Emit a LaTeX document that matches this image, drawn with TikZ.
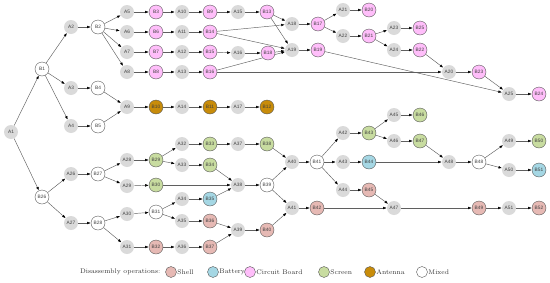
\documentclass[tikz,border=0pt]{standalone}
\usepackage{fontspec}
\newfontfamily\labelfont{Liberation Sans}
\usetikzlibrary{arrows.meta,backgrounds}
\definecolor{shellc}{RGB}{230,185,180}
\definecolor{batteryc}{RGB}{165,215,228}
\definecolor{boardc}{RGB}{255,190,250}
\definecolor{screenc}{RGB}{200,220,160}
\definecolor{antennac}{RGB}{200,140,10}
\definecolor{opgray}{RGB}{218,218,218}
\definecolor{edgec}{RGB}{95,95,95}
\tikzset{
    part/.style={circle, minimum size=14pt, inner sep=0pt,
        font=\labelfont\fontsize{4.8}{5}\selectfont, text=black!75},
    aop/.style={part, fill=opgray},
    bop/.style={part, draw=black!65, line width=0.4pt},
    mixed/.style={bop, fill=white},
    shell/.style={bop, fill=shellc},
    battery/.style={bop, fill=batteryc},
    board/.style={bop, fill=boardc},
    screen/.style={bop, fill=screenc},
    antenna/.style={bop, fill=antennac},
    arr/.style={-{Latex[length=3.6pt,width=2.6pt,color=black]}, draw=edgec, line width=0.45pt},
    legdot/.style={minimum size=11pt},
    legtxt/.style={font=\fontsize{6.7}{8}\selectfont, text=black!80, inner sep=0.5pt},
}

\begin{document}
\begin{tikzpicture}[x=1pt,y=-1pt]
		\useasboundingbox (0,0) rectangle (550,282);
		% upper tree
		\node[aop] (A1) at (11,132) {A1};
		\node[mixed] (B1) at (42,69) {B1};
		\node[aop] (A2) at (71,27) {A2};
		\node[mixed] (B2) at (98,27) {B2};
		\node[aop] (A3) at (71,88) {A3};
		\node[mixed] (B4) at (98,88) {B4};
		\node[aop] (A4) at (71,126) {A4};
		\node[mixed] (B5) at (98,126) {B5};
		\node[aop] (A5) at (127,12) {A5};
		\node[aop] (A6) at (127,32) {A6};
		\node[aop] (A7) at (127,52) {A7};
		\node[aop] (A8) at (127,72) {A8};
		\node[aop] (A9) at (127,107) {A9};
		\node[board] (B3) at (156,12) {B3};
		\node[board] (B6) at (156,32) {B6};
		\node[board] (B7) at (156,52) {B7};
		\node[board] (B8) at (156,72) {B8};
		\node[antenna] (B10) at (156,107) {B10};
		\node[aop] (A10) at (182,12) {A10};
		\node[aop] (A11) at (182,32) {A11};
		\node[aop] (A12) at (182,52) {A12};
		\node[aop] (A13) at (182,72) {A13};
		\node[aop] (A14) at (182,107) {A14};
		\node[board] (B9) at (210,12) {B9};
		\node[board] (B14) at (210,32) {B14};
		\node[board] (B15) at (210,52) {B15};
		\node[board] (B16) at (210,72) {B16};
		\node[antenna] (B11) at (210,107) {B11};
		\node[aop] (A15) at (238,12) {A15};
		\node[aop] (A16) at (238,53) {A16};
		\node[aop] (A17) at (238,107) {A17};
		\node[board] (B13) at (267,12) {B13};
		\node[board] (B18) at (268,53) {B18};
		\node[antenna] (B12) at (267,107) {B12};
		\node[aop] (A18) at (292,24) {A18};
		\node[aop] (A19) at (292,50) {A19};
		\node[board] (B17) at (318,24) {B17};
		\node[board] (B19) at (318,50) {B19};
		\node[aop] (A21) at (343,10) {A21};
		\node[aop] (A22) at (343,36) {A22};
		\node[board] (B20) at (369,10) {B20};
		\node[board] (B21) at (369,36) {B21};
		\node[aop] (A23) at (394,28) {A23};
		\node[aop] (A24) at (394,50) {A24};
		\node[board] (B25) at (420,28) {B25};
		\node[board] (B22) at (420,50) {B22};
		\node[aop] (A20) at (449,72) {A20};
		\node[board] (B23) at (479,72) {B23};
		\node[aop] (A25) at (509,94) {A25};
		\node[board] (B24) at (539,94) {B24};
		% lower tree
		\node[mixed] (B26) at (42,197) {B26};
		\node[aop] (A26) at (71,174) {A26};
		\node[mixed] (B27) at (98,174) {B27};
		\node[aop] (A27) at (71,223) {A27};
		\node[mixed] (B28) at (98,223) {B28};
		\node[aop] (A28) at (127,160) {A28};
		\node[aop] (A29) at (127,186) {A29};
		\node[aop] (A30) at (127,214) {A30};
		\node[aop] (A31) at (127,247) {A31};
		\node[screen] (B29) at (156,160) {B29};
		\node[screen] (B30) at (156,185) {B30};
		\node[mixed] (B31) at (156,212) {B31};
		\node[shell] (B32) at (156,247) {B32};
		\node[aop] (A32) at (182,144) {A32};
		\node[aop] (A33) at (182,165) {A33};
		\node[aop] (A34) at (182,199) {A34};
		\node[aop] (A35) at (182,221) {A35};
		\node[aop] (A36) at (182,247) {A36};
		\node[screen] (B33) at (210,144) {B33};
		\node[screen] (B34) at (210,165) {B34};
		\node[battery] (B35) at (210,199) {B35};
		\node[shell] (B36) at (210,221) {B36};
		\node[shell] (B37) at (210,247) {B37};
		\node[aop] (A37) at (238,144) {A37};
		\node[aop] (A38) at (238,185) {A38};
		\node[aop] (A39) at (238,230) {A39};
		\node[screen] (B38) at (267,144) {B38};
		\node[mixed] (B39) at (267,185) {B39};
		\node[shell] (B40) at (267,230) {B40};
		\node[aop] (A40) at (292,162) {A40};
		\node[aop] (A41) at (292,208) {A41};
		\node[mixed] (B41) at (317,162) {B41};
		\node[shell] (B42) at (317,208) {B42};
		\node[aop] (A42) at (343,133) {A42};
		\node[aop] (A43) at (343,162) {A43};
		\node[aop] (A44) at (343,190) {A44};
		\node[screen] (B43) at (369,133) {B43};
		\node[battery] (B44) at (369,162) {B44};
		\node[shell] (B45) at (369,190) {B45};
		\node[aop] (A45) at (394,115) {A45};
		\node[aop] (A46) at (394,141) {A46};
		\node[aop] (A47) at (394,208) {A47};
		\node[screen] (B46) at (420,115) {B46};
		\node[screen] (B47) at (420,141) {B47};
		\node[aop] (A48) at (449,162) {A48};
		\node[mixed] (B48) at (479,162) {B48};
		\node[shell] (B49) at (479,208) {B49};
		\node[aop] (A49) at (509,141) {A49};
		\node[aop] (A50) at (509,170) {A50};
		\node[aop] (A51) at (509,208) {A51};
		\node[screen] (B50) at (539,141) {B50};
		\node[battery] (B51) at (539,170) {B51};
		\node[shell] (B52) at (539,208) {B52};
		\begin{pgfonlayer}{background}
		% upper edges
		\draw[arr] (A1) -- (B1);
		\draw[arr] (A1) -- (B26);
		\draw[arr] (B1) -- (A2);
		\draw[arr] (B1) -- (A3);
		\draw[arr] (B1) -- (A4);
		\draw[arr] (A2) -- (B2);
		\draw[arr] (A3) -- (B4);
		\draw[arr] (A4) -- (B5);
		\draw[arr] (B2) -- (A5);
		\draw[arr] (B2) -- (A6);
		\draw[arr] (B2) -- (A7);
		\draw[arr] (B2) -- (A8);
		\draw[arr] (B4) -- (A9);
		\draw[arr] (B5) -- (A9);
		\draw[arr] (A5) -- (B3);
		\draw[arr] (B3) -- (A10);
		\draw[arr] (A10) -- (B9);
		\draw[arr] (B9) -- (A15);
		\draw[arr] (A15) -- (B13);
		\draw[arr] (A6) -- (B6);
		\draw[arr] (B6) -- (A11);
		\draw[arr] (A11) -- (B14);
		\draw[arr] (A7) -- (B7);
		\draw[arr] (B7) -- (A12);
		\draw[arr] (A12) -- (B15);
		\draw[arr] (B15) -- (A16);
		\draw[arr] (A16) -- (B18);
		\draw[arr] (A8) -- (B8);
		\draw[arr] (B8) -- (A13);
		\draw[arr] (A13) -- (B16);
		\draw[arr] (A9) -- (B10);
		\draw[arr] (B10) -- (A14);
		\draw[arr] (A14) -- (B11);
		\draw[arr] (B11) -- (A17);
		\draw[arr] (A17) -- (B12);
		\draw[arr] (B13) -- (A18);
		\draw[arr] (B13) -- (A19);
		\draw[arr] (B14) -- (A18);
		\draw[arr] (B14) -- (A19);
		\draw[arr] (B18) -- (A19);
		\draw[arr] (B16) -- (A19);
		\draw[arr] (B16) -- (A20);
		\draw[arr] (A18) -- (B17);
		\draw[arr] (A19) -- (B19);
		\draw[arr] (B17) -- (A21);
		\draw[arr] (B17) -- (A22);
		\draw[arr] (A21) -- (B20);
		\draw[arr] (A22) -- (B21);
		\draw[arr] (B21) -- (A23);
		\draw[arr] (B21) -- (A24);
		\draw[arr] (A23) -- (B25);
		\draw[arr] (A24) -- (B22);
		\draw[arr] (B22) -- (A20);
		\draw[arr] (A20) -- (B23);
		\draw[arr] (B23) -- (A25);
		\draw[arr] (B19) -- (A25);
		\draw[arr] (A25) -- (B24);
		% lower edges
		\draw[arr] (B26) -- (A26);
		\draw[arr] (B26) -- (A27);
		\draw[arr] (A26) -- (B27);
		\draw[arr] (A27) -- (B28);
		\draw[arr] (B27) -- (A28);
		\draw[arr] (B27) -- (A29);
		\draw[arr] (B28) -- (A30);
		\draw[arr] (B28) -- (A31);
		\draw[arr] (A28) -- (B29);
		\draw[arr] (A29) -- (B30);
		\draw[arr] (A30) -- (B31);
		\draw[arr] (A31) -- (B32);
		\draw[arr] (B29) -- (A32);
		\draw[arr] (B29) -- (A33);
		\draw[arr] (A32) -- (B33);
		\draw[arr] (B33) -- (A37);
		\draw[arr] (A37) -- (B38);
		\draw[arr] (A33) -- (B34);
		\draw[arr] (B34) -- (A38);
		\draw[arr] (B30) -- (A38);
		\draw[arr] (B31) -- (A34);
		\draw[arr] (B31) -- (A35);
		\draw[arr] (A34) -- (B35);
		\draw[arr] (B35) -- (A38);
		\draw[arr] (A35) -- (B36);
		\draw[arr] (B36) -- (A39);
		\draw[arr] (B32) -- (A36);
		\draw[arr] (A36) -- (B37);
		\draw[arr] (B37) -- (A39);
		\draw[arr] (A38) -- (B39);
		\draw[arr] (A39) -- (B40);
		\draw[arr] (B38) -- (A40);
		\draw[arr] (B39) -- (A40);
		\draw[arr] (B39) -- (A41);
		\draw[arr] (B40) -- (A41);
		\draw[arr] (A40) -- (B41);
		\draw[arr] (A41) -- (B42);
		\draw[arr] (B41) -- (A42);
		\draw[arr] (B41) -- (A43);
		\draw[arr] (B41) -- (A44);
		\draw[arr] (A42) -- (B43);
		\draw[arr] (A43) -- (B44);
		\draw[arr] (A44) -- (B45);
		\draw[arr] (B43) -- (A45);
		\draw[arr] (B43) -- (A46);
		\draw[arr] (A45) -- (B46);
		\draw[arr] (A46) -- (B47);
		\draw[arr] (B47) -- (A48);
		\draw[arr] (B44) -- (A48);
		\draw[arr] (B45) -- (A47);
		\draw[arr] (B42) -- (A47);
		\draw[arr] (A47) -- (B49);
		\draw[arr] (A48) -- (B48);
		\draw[arr] (B48) -- (A49);
		\draw[arr] (B48) -- (A50);
		\draw[arr] (A49) -- (B50);
		\draw[arr] (A50) -- (B51);
		\draw[arr] (B49) -- (A51);
		\draw[arr] (A51) -- (B52);
		\end{pgfonlayer}
		% legend
		\node[legtxt, anchor=east] (legtitle) at (161,272) {Disassembly operations:};
		\node[shell, legdot, label={[legtxt]right:Shell}] (legshell) at (171,272) {};
		\node[battery, legdot, label={[legtxt]right:Battery}] (legbattery) at (213,272) {};
		\node[board, legdot, label={[legtxt]right:Circuit Board}] (legboard) at (250,272) {};
		\node[screen, legdot, label={[legtxt]right:Screen}] (legscreen) at (324,272) {};
		\node[antenna, legdot, label={[legtxt]right:Antenna}] (legantenna) at (370,272) {};
		\node[mixed, legdot, label={[legtxt]right:Mixed}] (legmixed) at (422,272) {};
\end{tikzpicture}
\end{document}
